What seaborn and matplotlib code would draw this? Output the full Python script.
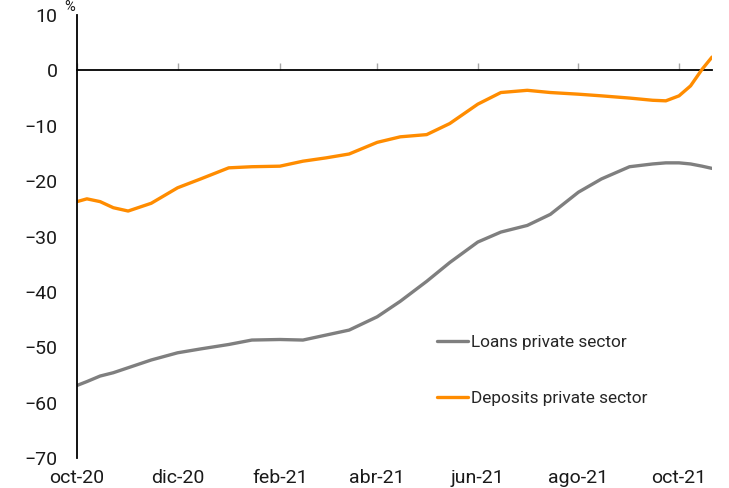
import matplotlib
matplotlib.use("Agg")
import matplotlib.pyplot as plt
import seaborn as sns
import pandas as pd

dates = ["2020-10-01", "2020-10-07", "2020-10-15", "2020-10-23", "2020-11-01", "2020-11-15",
         "2020-12-01", "2020-12-15", "2021-01-01", "2021-01-15", "2021-02-01", "2021-02-15",
         "2021-03-01", "2021-03-15", "2021-04-01", "2021-04-15", "2021-05-01", "2021-05-15",
         "2021-06-01", "2021-06-15", "2021-07-01", "2021-07-15", "2021-08-01", "2021-08-15",
         "2021-09-01", "2021-09-15", "2021-09-23", "2021-10-01", "2021-10-08", "2021-10-15",
         "2021-10-21"]
loans = [-56.9, -56.2, -55.2, -54.6, -53.7, -52.3,
         -51.0, -50.3, -49.5, -48.7, -48.6, -48.7,
         -47.8, -46.9, -44.5, -41.7, -38.1, -34.7,
         -31.0, -29.2, -28.0, -26.0, -22.0, -19.6,
         -17.4, -16.9, -16.7, -16.7, -16.9, -17.3,
         -17.7]
deposits = [-23.7, -23.2, -23.7, -24.8, -25.4, -24.0,
            -21.2, -19.6, -17.6, -17.4, -17.3, -16.4,
            -15.8, -15.1, -13.0, -12.0, -11.6, -9.6,
            -6.1, -4.0, -3.6, -4.0, -4.3, -4.6,
            -5.0, -5.4, -5.5, -4.6, -2.8, 0.2,
            2.4]
series_names = ["Loans private sector", "Deposits private sector"]
series_colors = ["#7F7F7F", "#FF8C00"]
tick_dates = ["2020-10-01", "2020-12-01", "2021-02-01", "2021-04-01", "2021-06-01", "2021-08-01", "2021-10-01"]
tick_labels = ["oct-20", "dic-20", "feb-21", "abr-21", "jun-21", "ago-21", "oct-21"]
y_ticks = [-70, -60, -50, -40, -30, -20, -10, 0, 10]

sns.set_style("white")
plt.rcParams["font.family"] = ["Roboto", "DejaVu Sans"]

wide = pd.DataFrame({"date": pd.to_datetime(dates), series_names[0]: loans, series_names[1]: deposits})
df = wide.melt("date", var_name="series", value_name="value")

fig = plt.figure(figsize=(7.29, 4.88), dpi=100)
ax = fig.add_axes([77 / 729, 1 - 458 / 488, 635 / 729, 443 / 488])
sns.lineplot(data=df, x="date", y="value", hue="series", hue_order=series_names,
             palette=dict(zip(series_names, series_colors)), linewidth=2.4, ax=ax)

ax.set_xlim(pd.Timestamp(dates[0]), pd.Timestamp(dates[-1]))
ax.set_ylim(-70, 10)
ax.set_yticks(y_ticks)
ax.set_xticks(pd.to_datetime(tick_dates))
ax.set_xticklabels(tick_labels)
ax.set_xlabel("")
ax.set_ylabel("")
for s in ["top", "right", "bottom"]:
    ax.spines[s].set_visible(False)
ax.spines["left"].set_color("black")
ax.spines["left"].set_linewidth(1.3)
ax.tick_params(axis="y", direction="in", length=5, color="#A6A6A6", width=1,
               labelsize=14, pad=14, labelcolor="#1a1a1a")
ax.tick_params(axis="x", length=0, labelsize=14, pad=8, labelcolor="#1a1a1a")

sec = ax.secondary_xaxis(0, transform=ax.transData)
sec.set_alignment("bottom")
sec.set_xticks(pd.to_datetime(tick_dates))
sec.tick_params(direction="in", length=5, color="#A6A6A6", width=1,
                labelbottom=False, labeltop=False)
sec.spines["bottom"].set_color("black")
sec.spines["bottom"].set_linewidth(1.3)

handles, labels = ax.get_legend_handles_labels()
ax.legend(handles, labels, loc="center left", bbox_to_anchor=(0.567, 0.1975),
          frameon=False, fontsize=12.4, handlelength=1.8, handletextpad=0.2,
          labelspacing=2.4, borderpad=0, borderaxespad=0)

fig.text(70 / 729, 1 - 11 / 488, "%", ha="center", va="baseline", fontsize=10.5, color="#1a1a1a")

fig.savefig("out.png", dpi=100)
